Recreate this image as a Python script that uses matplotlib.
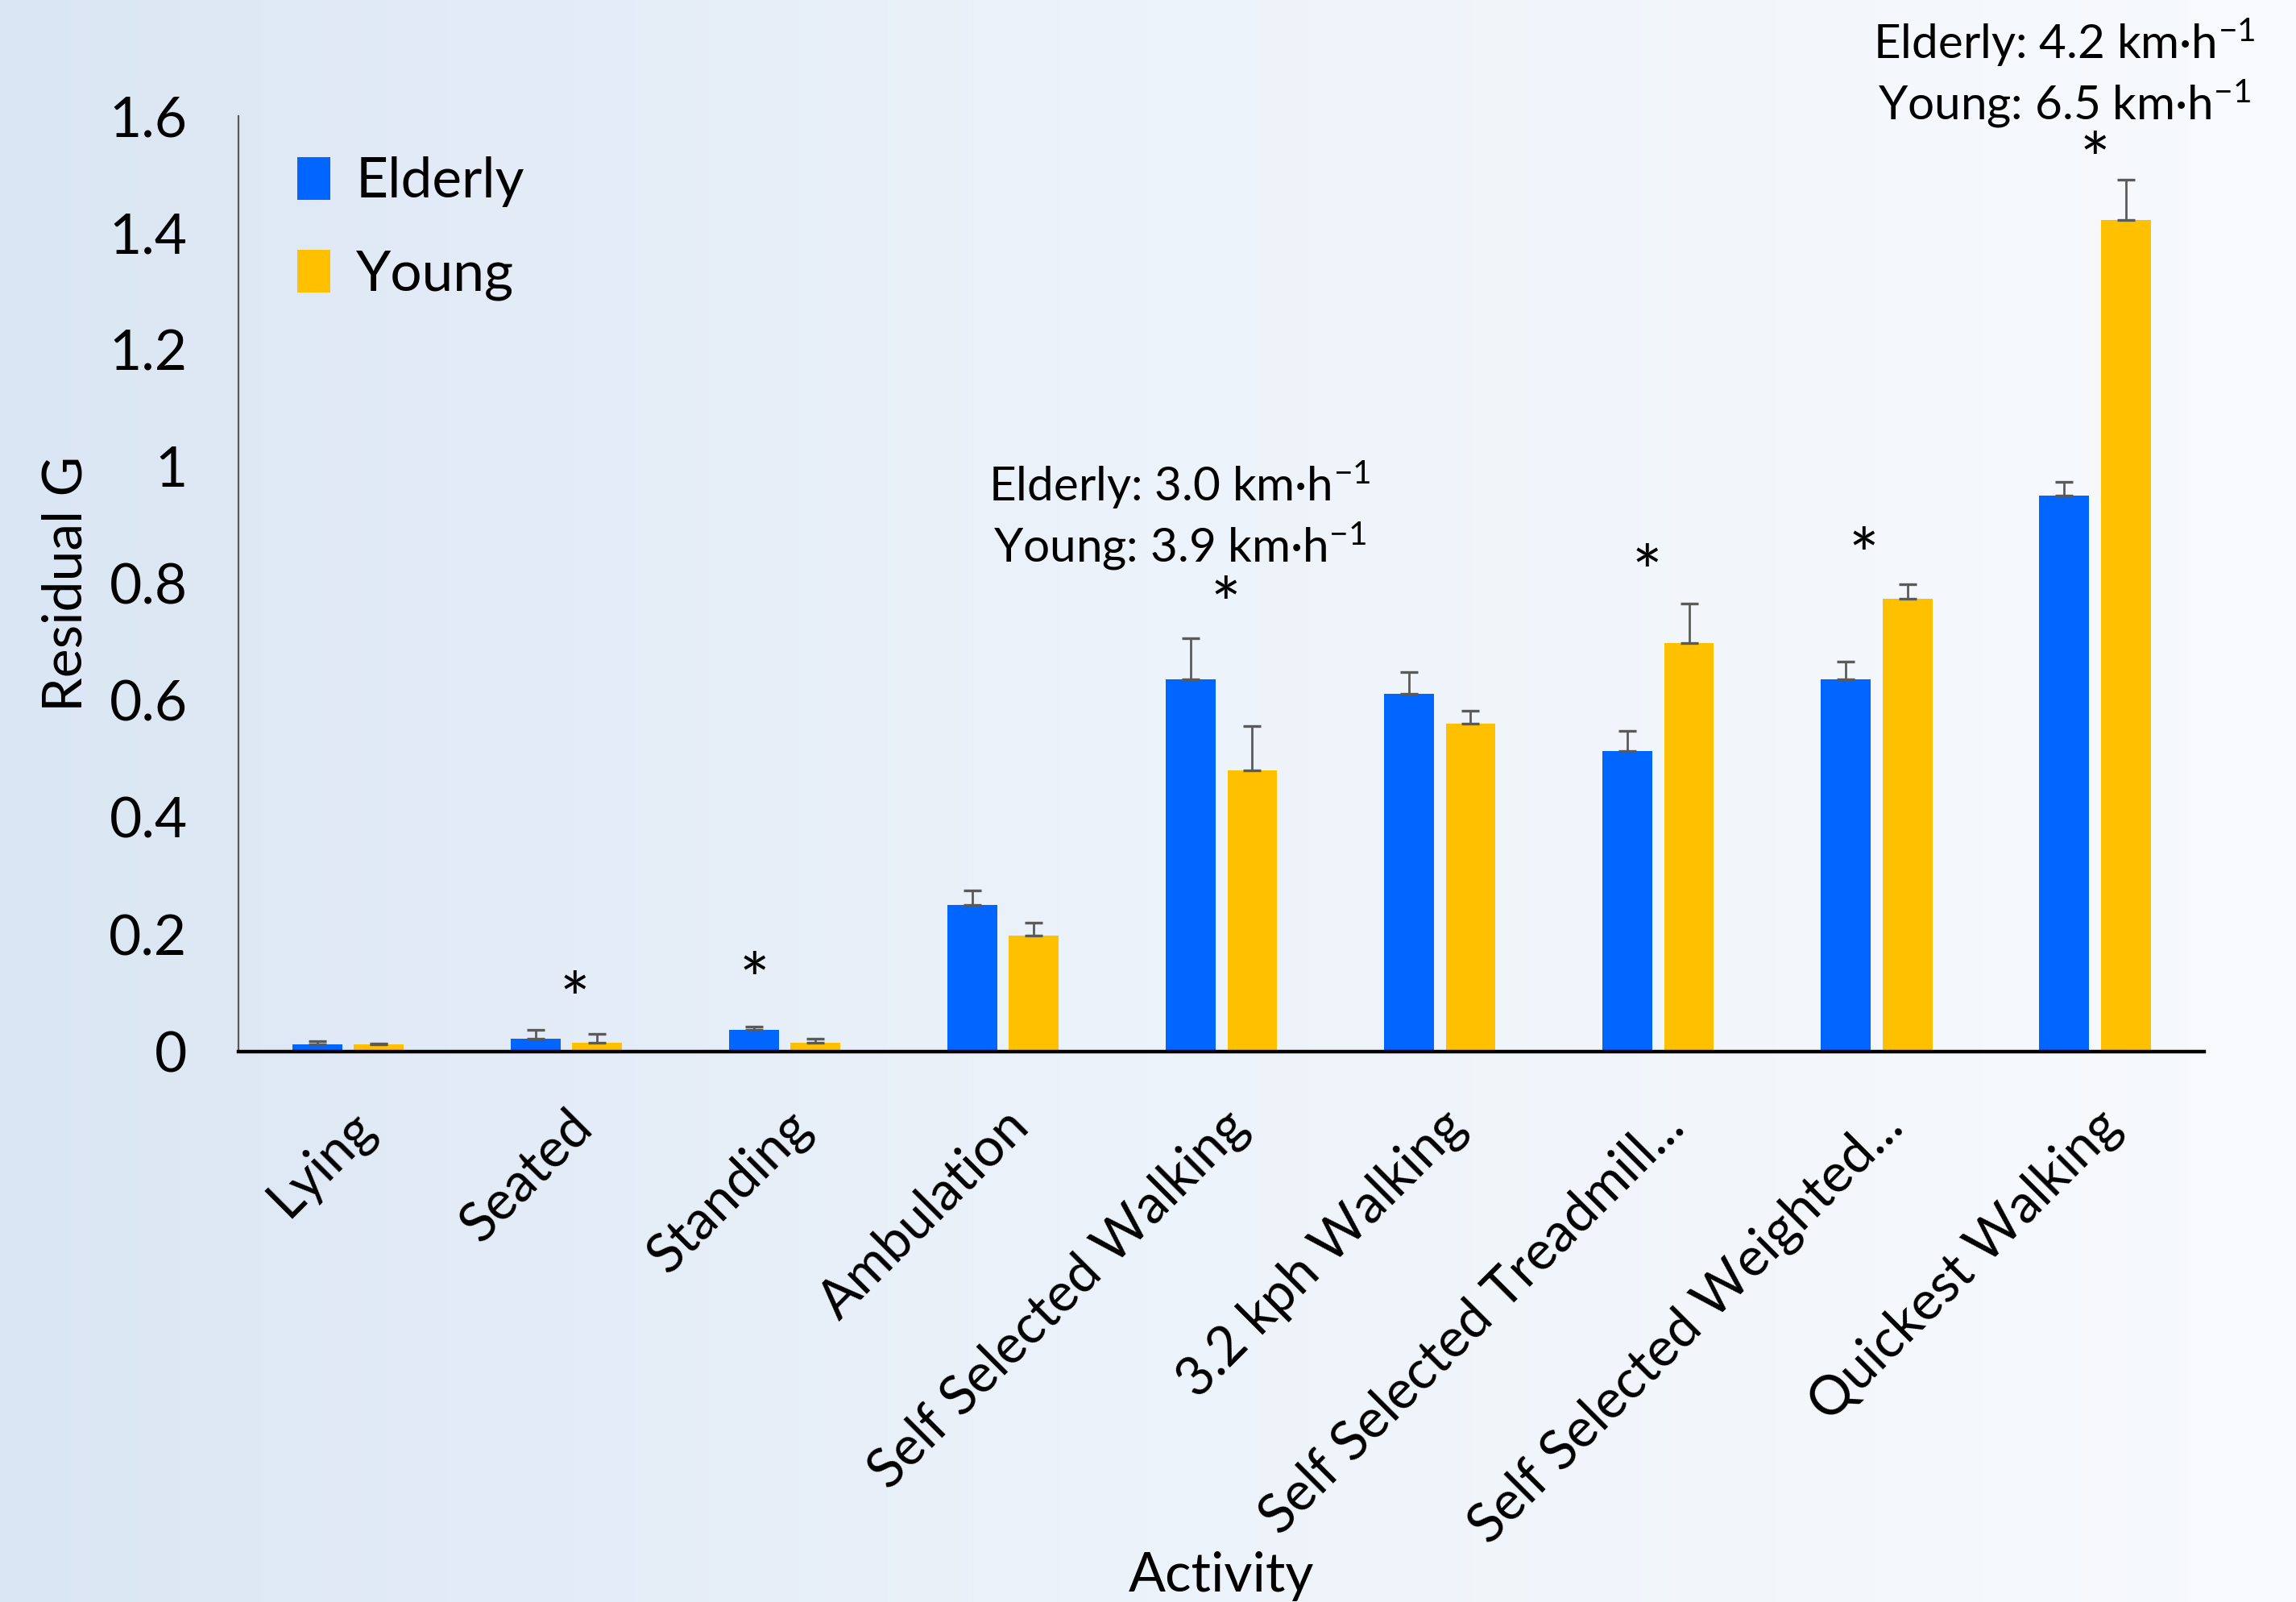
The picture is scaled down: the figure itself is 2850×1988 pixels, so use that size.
import numpy as np
import matplotlib.pyplot as plt
from matplotlib.colors import LinearSegmentedColormap

plt.rcParams['font.family'] = ['Lato', 'DejaVu Sans']
plt.rcParams['mathtext.default'] = 'regular'

activities = ['Lying', 'Seated', 'Standing', 'Ambulation', 'Self Selected Walking',
              '3.2 kph Walking', 'Self Selected Treadmill...', 'Self Selected Weighted...',
              'Quickest Walking']
elderly = [0.012, 0.022, 0.037, 0.25, 0.636, 0.611, 0.513, 0.636, 0.951]
elderly_err = [0.005, 0.015, 0.006, 0.025, 0.07, 0.037, 0.035, 0.03, 0.023]
young = [0.012, 0.015, 0.015, 0.198, 0.48, 0.561, 0.698, 0.774, 1.422]
young_err = [0.002, 0.015, 0.006, 0.022, 0.076, 0.022, 0.068, 0.025, 0.068]

# significance stars: (category index, x offset, y)
stars = [(1, 0.04, 0.125), (2, -0.14, 0.158), (4, 0.02, 0.80),
         (6, -0.05, 0.855), (7, -0.06, 0.884), (8, 0.0, 1.56)]

fig = plt.figure(figsize=(14.25, 9.94), dpi=200)

# background gradient
bg = fig.add_axes([0, 0, 1, 1], zorder=-1)
cmap = LinearSegmentedColormap.from_list('bg', ['#dbe6f4', '#edf3fa', '#f8fafd'])
bg.imshow(np.linspace(0, 1, 256).reshape(1, -1), aspect='auto', cmap=cmap,
          extent=[0, 1, 0, 1])
bg.axis('off')

ax = fig.add_axes([0.104, 0.3437, 0.856, 0.5841])
ax.patch.set_alpha(0)

x = np.arange(len(activities))
w = 0.228
off = 0.141
err_kw = dict(ecolor='#5a5a5a', elinewidth=1.0, capsize=4, capthick=1.2)
ax.bar(x - off, elderly, w, color='#0066FF', label='Elderly',
       yerr=[np.zeros(len(x)), elderly_err], error_kw=err_kw)
ax.bar(x + off, young, w, color='#FFC000', label='Young',
       yerr=[np.zeros(len(x)), young_err], error_kw=err_kw)

# Lato draws '*' high in the em box, so shift it down a bit
for i, dx, y in stars:
    ax.text(i + dx, y - 0.045, '*', ha='center', va='center', fontsize=32)

ann = dict(ha='center', va='center', fontsize=21, clip_on=False)
ax.text(3.81, 0.969, 'Elderly: 3.0 km·h$^{-1}$', **ann)
ax.text(3.81, 0.864, 'Young: 3.9 km·h$^{-1}$', **ann)
ax.text(7.86, 1.725, 'Elderly: 4.2 km·h$^{-1}$', **ann)
ax.text(7.86, 1.62, 'Young: 6.5 km·h$^{-1}$', **ann)

ax.set_xlim(-0.5, len(activities) - 0.5)
ax.set_ylim(0, 1.6)
ax.set_yticks(np.arange(0, 1.61, 0.2))
ax.set_yticklabels(['0', '0.2', '0.4', '0.6', '0.8', '1', '1.2', '1.4', '1.6'])
ax.set_xticks(x)
ax.set_xticklabels(activities, rotation=45, ha='right', rotation_mode='anchor')
ax.tick_params(axis='both', length=0)
ax.tick_params(axis='y', pad=23, labelsize=25)
ax.tick_params(axis='x', pad=22, labelsize=24)

ax.spines['top'].set_visible(False)
ax.spines['right'].set_visible(False)
ax.spines['left'].set_color('#595959')
ax.spines['left'].set_linewidth(0.8)
ax.spines['bottom'].set_color('black')
ax.spines['bottom'].set_linewidth(1.6)

ax.set_ylabel('Residual G', fontsize=24.5, labelpad=8)
fig.text(0.532, 0.016, 'Activity', ha='center', va='center', fontsize=24.5)

ax.legend(loc='upper left', bbox_to_anchor=(0.004, 1.01), frameon=False, fontsize=25,
          handlelength=0.6, handleheight=0.8, handletextpad=0.45, labelspacing=0.75)

fig.savefig('out.png', dpi=200)
